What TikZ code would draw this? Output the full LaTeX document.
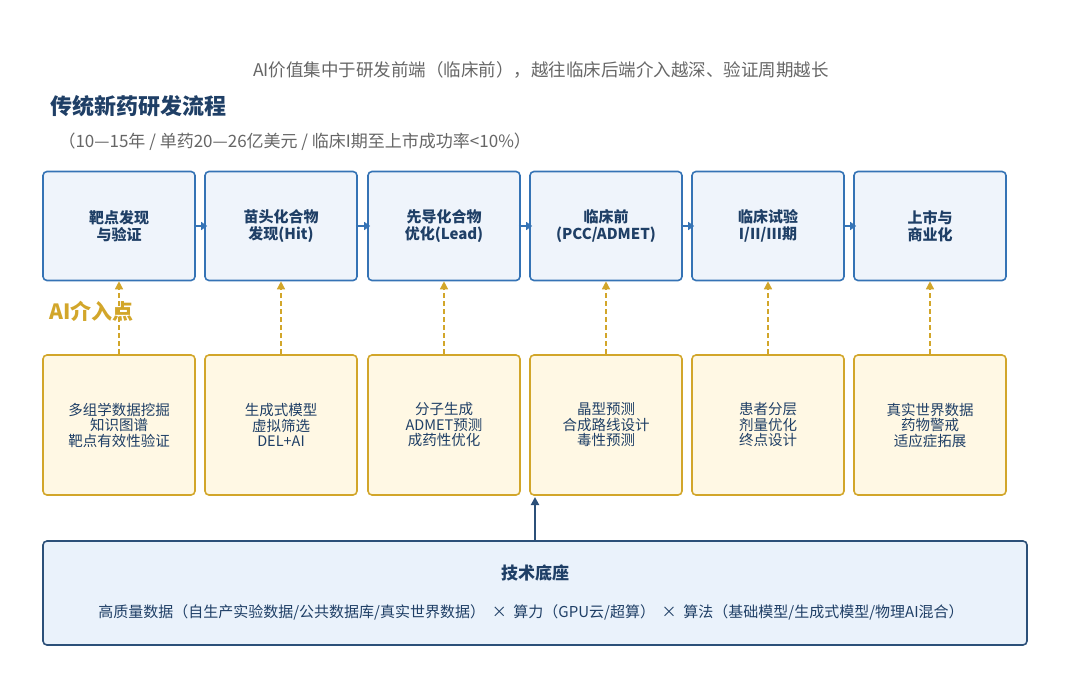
\documentclass[tikz,border=0pt]{standalone}
\usepackage{fontspec}
\setmainfont{Noto Sans CJK SC}
\usetikzlibrary{arrows.meta}
\definecolor{stageblue}{HTML}{3573B5}
\definecolor{stagefill}{HTML}{EFF4FB}
\definecolor{darkblue}{HTML}{1F3F66}
\definecolor{aigold}{HTML}{D2A62A}
\definecolor{aifill}{HTML}{FFF8E4}
\definecolor{basefill}{HTML}{EAF2FB}
\definecolor{baseblue}{HTML}{2C5079}
\definecolor{greytext}{HTML}{666666}
\tikzset{
  stage/.style={draw=stageblue, fill=stagefill, line width=1.6pt, rounded corners=4pt,
    minimum width=152pt, minimum height=109pt, align=center, font=\bfseries\fontsize{15}{17}\selectfont, text=darkblue},
  aibox/.style={draw=aigold, fill=aifill, line width=1.6pt, rounded corners=4pt,
    minimum width=152pt, minimum height=140pt, align=center, font=\fontsize{14.5}{15.5}\selectfont, text=darkblue},
  aiarrow/.style={-{Triangle[length=8pt,width=8pt]}, aigold, line width=1.4pt, dash pattern=on 5pt off 3pt},
  flowarrow/.style={-{Triangle[length=6pt,width=8pt]}, stageblue, line width=1.2pt, shorten <=-2pt, shorten >=-3pt}
}
\begin{document}
\begin{tikzpicture}[x=1pt, y=-1pt]
  \useasboundingbox (0,0) rectangle (1080,683);
  \node[text=greytext, font=\fontsize{17.5}{19}\selectfont] (note) at (541,70) {AI价值集中于研发前端（临床前），越往临床后端介入越深、验证周期越长};
  \node[anchor=west, text=darkblue, font=\bfseries\fontsize{22}{24}\selectfont] (title) at (47,106) {传统新药研发流程};
  \node[anchor=west, text=greytext, font=\fontsize{17}{19}\selectfont] (sub) at (55,142) {（10—15年 / 单药20—26亿美元 / 临床I期至上市成功率<10\%）};

  \node[stage] (s1) at (119,226) {靶点发现\\与验证};
  \node[stage] (s2) at (281,226) {苗头化合物\\发现(Hit)};
  \node[stage] (s3) at (444,226) {先导化合物\\优化(Lead)};
  \node[stage] (s4) at (606,226) {临床前\\(PCC/ADMET)};
  \node[stage] (s5) at (768,226) {临床试验\\I/II/III期};
  \node[stage] (s6) at (930,226) {上市与\\商业化};

  \node[aibox] (a1) at (119,425) {多组学数据挖掘\\知识图谱\\靶点有效性验证};
  \node[aibox] (a2) at (281,425) {生成式模型\\虚拟筛选\\DEL+AI};
  \node[aibox] (a3) at (444,425) {分子生成\\ADMET预测\\成药性优化};
  \node[aibox] (a4) at (606,425) {晶型预测\\合成路线设计\\毒性预测};
  \node[aibox] (a5) at (768,425) {患者分层\\剂量优化\\终点设计};
  \node[aibox] (a6) at (930,425) {真实世界数据\\药物警戒\\适应症拓展};

  \foreach \i/\j in {1/2,2/3,3/4,4/5,5/6}
    \draw[flowarrow] (s\i.east) -- (s\j.west);
  \foreach \i in {1,...,6}
    \draw[aiarrow] (a\i.north) -- (s\i.south);

  \node[anchor=west, text=aigold, font=\bfseries\fontsize{21}{23}\selectfont] (ailabel) at (46,311) {AI介入点};

  \node[draw=baseblue, fill=basefill, line width=1.6pt, rounded corners=4pt,
    minimum width=984pt, minimum height=104pt] (base) at (535,593) {};
  \node[text=darkblue, font=\bfseries\fontsize{17}{19}\selectfont] (basetitle) at (535,573) {技术底座};
  \node[text=darkblue, font=\fontsize{15}{17}\selectfont] (baseitems) at (531,612) {高质量数据（自生产实验数据/公共数据库/真实世界数据）\ \ × \ 算力（GPU云/超算）\ \ × \ 算法（基础模型/生成式模型/物理AI混合）};
  \coordinate (basetop) at (535,541);
  \coordinate (a4foot) at (535,497);
  \draw[-{Triangle[length=8pt,width=8pt]}, baseblue, line width=2pt] (basetop) -- (a4foot);
\end{tikzpicture}
\end{document}
